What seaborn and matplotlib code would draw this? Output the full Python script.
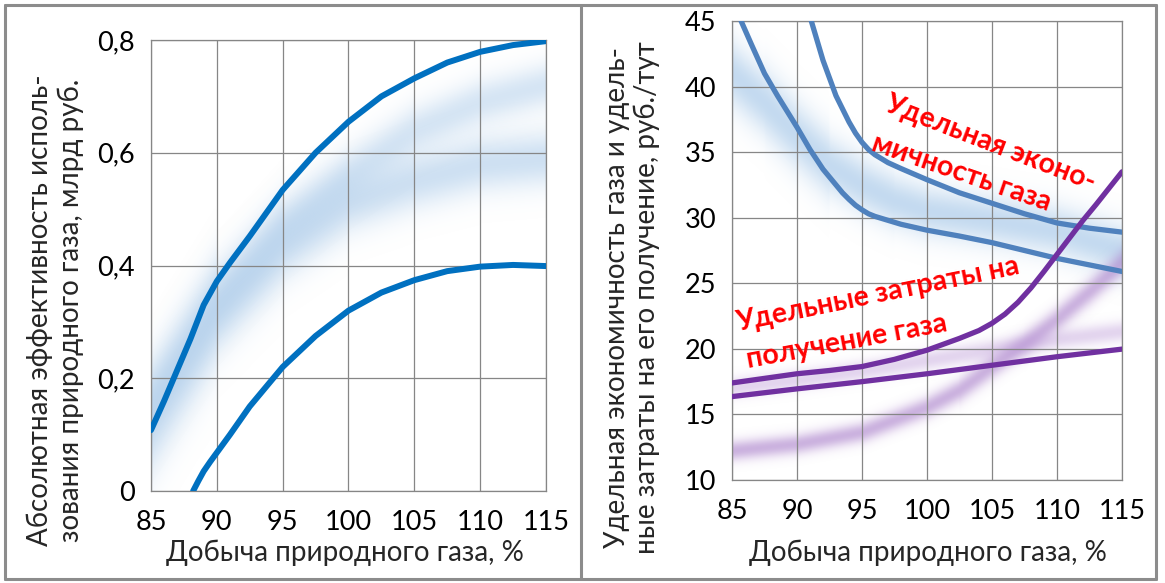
import numpy as np
import matplotlib.pyplot as plt
import seaborn as sns
from matplotlib.colors import to_rgb
from matplotlib.lines import Line2D

# ---- left panel: absolute efficiency, bln rub ----
eff_hi_x = [85, 86, 87, 88, 89, 90, 91, 92.5, 95, 97.5, 100, 102.5, 105, 107.5, 110, 112.5, 115]
eff_hi_y = [0.108, 0.16, 0.215, 0.27, 0.33, 0.372, 0.405, 0.452, 0.534, 0.60, 0.655, 0.70, 0.732, 0.76, 0.779, 0.791, 0.798]
eff_lo_x = [88.2, 88.6, 89, 89.5, 90, 91, 92.5, 95, 97.5, 100, 102.5, 105, 107.5, 110, 112.5, 115]
eff_lo_y = [0.0, 0.018, 0.035, 0.052, 0.068, 0.1, 0.15, 0.22, 0.275, 0.32, 0.352, 0.374, 0.39, 0.398, 0.401, 0.399]
# soft (blurred) bands
eff_band_x = [85, 90, 95, 100, 105, 110, 115]
eff_band1_y = [0.12, 0.31, 0.43, 0.51, 0.55, 0.58, 0.59]
eff_band2_y = [0.16, 0.34, 0.47, 0.56, 0.64, 0.69, 0.72]

# ---- right panel: specific economy and specific cost, rub/tce ----
econ_hi_x = [91.1, 92, 93, 94, 94.5, 95, 95.5, 96, 96.5, 97, 98, 100, 102.5, 105, 107.5, 110, 112.5, 115]
econ_hi_y = [45, 42.0, 39.3, 37.3, 36.45, 35.75, 35.2, 34.8, 34.5, 34.2, 33.75, 32.9, 31.9, 31.1, 30.3, 29.6, 29.2, 28.9]
econ_lo_x = [85.7, 86.5, 87.5, 88.5, 90, 91, 92, 93, 93.5, 94, 94.5, 95, 95.5, 96, 97, 98, 100, 102.5, 105, 107.5, 110, 112.5, 115]
econ_lo_y = [45, 43.2, 41.0, 39.3, 36.9, 35.2, 33.7, 32.5, 31.9, 31.4, 30.95, 30.6, 30.3, 30.1, 29.8, 29.5, 29.05, 28.6, 28.1, 27.5, 26.9, 26.4, 25.9]
cost_hi_x = [85, 87.5, 90, 92.5, 95, 97.5, 100, 102.5, 104, 105, 106, 107, 108, 109, 110, 111, 112, 113, 114, 115]
cost_hi_y = [17.4, 17.75, 18.1, 18.35, 18.65, 19.2, 19.9, 20.8, 21.4, 21.95, 22.65, 23.55, 24.65, 25.9, 27.2, 28.5, 29.8, 31.0, 32.25, 33.5]
cost_lo_x = [85, 90, 95, 100, 105, 110, 115]
cost_lo_y = [16.36, 16.95, 17.5, 18.1, 18.75, 19.4, 19.98]
# soft bands
econ_band_x = [85, 87.5, 90, 92.5, 95, 97.5, 100, 105, 110, 115]
econ_band_y = [41.0, 38.8, 36.3, 34.0, 32.5, 31.3, 30.5, 29.8, 29.0, 27.5]
cost_band1_x = [85, 90, 95, 100, 102.5, 105, 107.5, 110, 112.5, 115]
cost_band1_y = [12.2, 12.7, 13.6, 15.5, 16.8, 18.6, 20.3, 22.2, 24.3, 26.5]
cost_band2_x = [85, 90, 95, 100, 105, 110, 115]
cost_band2_y = [17.0, 17.6, 18.3, 19.1, 19.9, 20.7, 21.3]

x_ticks = [85, 90, 95, 100, 105, 110, 115]
eff_ticks = [0, 0.2, 0.4, 0.6, 0.8]
eff_tick_labels = ["0", "0,2", "0,4", "0,6", "0,8"]
cost_ticks = [10, 15, 20, 25, 30, 35, 40, 45]

GRID = "#868686"
BLUE = "#0070C0"
STEEL = "#4F81BD"
PURPLE = "#7030A0"


def soft_band(ax, bx, by, color, sigma_px, peak, ylim, size_px):
    """Blurred band around a centre curve, rendered as a gaussian RGBA image."""
    w, h = size_px
    xs = np.linspace(85, 115, w)
    ys = np.linspace(ylim[0], ylim[1], h)
    cy = np.interp(xs, bx, by)
    sx = w / 30
    sy = h / (ylim[1] - ylim[0])
    slope = np.gradient(cy, xs) * sy / sx
    d = (ys[:, None] - cy[None, :]) * sy / np.sqrt(1 + slope ** 2)
    rgba = np.zeros((h, w, 4))
    rgba[..., :3] = to_rgb(color)
    rgba[..., 3] = peak * np.exp(-0.5 * (d / sigma_px) ** 2)
    ax.imshow(rgba, extent=(85, 115, ylim[0], ylim[1]), origin="lower",
              aspect="auto", interpolation="bilinear", zorder=0.2)


def style_axes(ax):
    ax.set_xlim(85, 115)
    ax.set_xticks(x_ticks)
    ax.grid(True, color=GRID, lw=0.9)
    ax.set_axisbelow(True)
    for sp in ax.spines.values():
        sp.set_color(GRID)
        sp.set_linewidth(0.9)
    ax.tick_params(length=5.5, width=0.9, color=GRID, labelsize=19.5, pad=6,
                   labelcolor="black")
    ax.tick_params(axis="x", pad=8)
    ax.set_xlabel("")
    ax.set_ylabel("")


sns.set_style("white")
plt.rcParams["font.family"] = ["Lato", "DejaVu Sans"]

fig = plt.figure(figsize=(11.65, 5.83), dpi=100)
ax1 = fig.add_axes([151 / 1165, 1 - 491 / 583, 395 / 1165, 451 / 583])
ax2 = fig.add_axes([732 / 1165, 1 - 480 / 583, 390 / 1165, 459 / 583])

# left panel
soft_band(ax1, eff_band_x, eff_band1_y, "#9DC3E6", 19, 0.5, (0, 0.8), (395, 451))
soft_band(ax1, eff_band_x, eff_band2_y, "#9DC3E6", 15, 0.42, (0, 0.8), (395, 451))
sns.lineplot(x=eff_hi_x, y=eff_hi_y, ax=ax1, color=BLUE, lw=4.3, sort=False, zorder=3)
sns.lineplot(x=eff_lo_x, y=eff_lo_y, ax=ax1, color=BLUE, lw=4.3, sort=False, zorder=3)
style_axes(ax1)
ax1.set_ylim(0, 0.8)
ax1.set_yticks(eff_ticks)
ax1.set_yticklabels(eff_tick_labels)

# right panel
soft_band(ax2, econ_band_x, econ_band_y, "#9DC3E6", 17, 0.6, (10, 45), (390, 459))
soft_band(ax2, cost_band1_x, cost_band1_y, "#A97FCB", 7, 0.6, (10, 45), (390, 459))
soft_band(ax2, cost_band2_x, cost_band2_y, "#B995D6", 7, 0.4, (10, 45), (390, 459))
sns.lineplot(x=econ_hi_x, y=econ_hi_y, ax=ax2, color=STEEL, lw=3.8, sort=False, zorder=3)
sns.lineplot(x=econ_lo_x, y=econ_lo_y, ax=ax2, color=STEEL, lw=3.8, sort=False, zorder=3)
sns.lineplot(x=cost_hi_x, y=cost_hi_y, ax=ax2, color=PURPLE, lw=3.8, sort=False, zorder=3)
sns.lineplot(x=cost_lo_x, y=cost_lo_y, ax=ax2, color=PURPLE, lw=3.8, sort=False, zorder=3)
style_axes(ax2)
ax2.set_ylim(10, 45)
ax2.set_yticks(cost_ticks)

# red annotations
red = dict(color="#FF0000", fontsize=20.5, fontweight="bold",
           rotation_mode="anchor", ha="left", va="baseline", zorder=5)
ax2.text(96.6, 38.2, "Удельная эконо-", rotation=-21, **red)
ax2.text(95.6, 35.15, "мичность газа", rotation=-19, **red)
ax2.text(85.5, 21.36, "Удельные затраты на", rotation=11.5, **red)
ax2.text(86.25, 18.5, "получение газа", rotation=10.5, **red)

# axis titles
lab = dict(fontsize=20, rotation=90, ha="center", va="center", multialignment="center")
fig.text(55 / 1165, 1 - 310 / 583,
         "Абсолютная эффективность исполь-\nзования природного газа, млрд руб.", **lab)
fig.text(632 / 1165, 1 - 298 / 583,
         "Удельная экономичность газа и удель-\nные затраты на его получение, руб./тут", **lab)
fig.text(345 / 1165, 1 - 553 / 583, "Добыча природного газа, %",
         fontsize=20, ha="center", va="center")
fig.text(928 / 1165, 1 - 553 / 583, "Добыча природного газа, %",
         fontsize=20, ha="center", va="center")

# outer frame and divider between the panels
fx0, fx1 = 5 / 1165, 1156 / 1165
fy0, fy1 = 1 - 579 / 583, 1 - 5 / 583
fmid = 581 / 1165
for xs, ys in [([fx0, fx1], [fy0, fy0]), ([fx0, fx1], [fy1, fy1]),
               ([fx0, fx0], [fy0, fy1]), ([fx1, fx1], [fy0, fy1]),
               ([fmid, fmid], [fy0, fy1])]:
    fig.add_artist(Line2D(xs, ys, transform=fig.transFigure, color="#8C8C8C", lw=2.2))

fig.savefig("out.png", dpi=100)
